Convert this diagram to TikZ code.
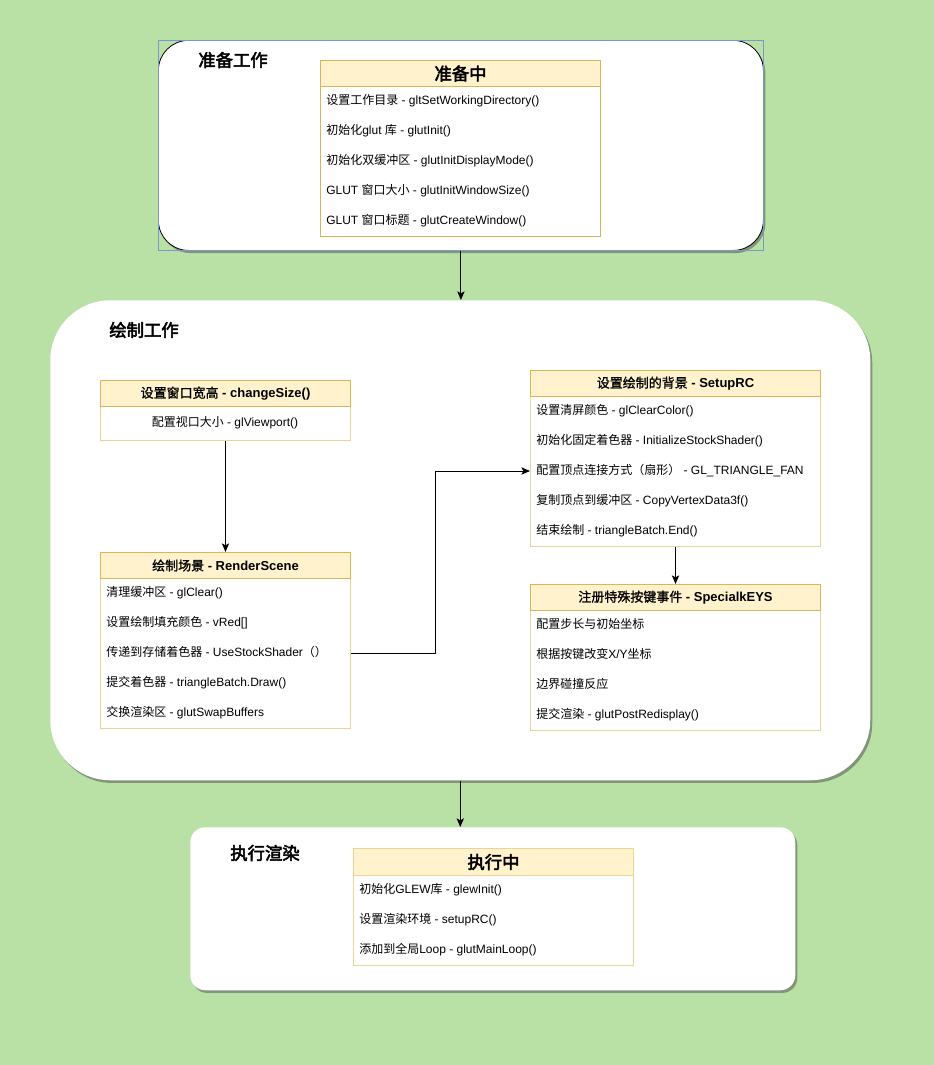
\documentclass[tikz,border=0pt]{standalone}
\usepackage{fontspec}
\setmainfont{Liberation Sans}
\newfontfamily\cjk{Noto Sans CJK SC}
\newfontfamily\cjkbf{Noto Sans CJK SC}[FakeBold=1.2]
\newfontfamily\cjkttl{Noto Sans CJK SC}[FakeBold=3]
\usetikzlibrary{arrows.meta,shadows}
\newcommand\zh[1]{{\cjk #1}}
\newcommand\zhb[1]{{\cjkbf #1}}
\newcommand\zht[1]{{\cjkttl #1}}
\newcommand\hb[2]{\zhb{#1}\textbf{#2}}
\definecolor{bgc}{HTML}{B9E0A5}
\definecolor{hdrf}{HTML}{FFF2CC}
\definecolor{hdrd}{HTML}{D6B656}
\definecolor{hdrl}{HTML}{EBD596}
\definecolor{selc}{HTML}{7A98D0}
\begin{document}
\begin{tikzpicture}[x=0.75pt,y=-0.75pt,
 panel/.style={fill=white, anchor=north west, inner sep=0pt,
   drop shadow={shadow xshift=1.5pt, shadow yshift=-2pt, opacity=0.5, fill=black!70}},
 hdr/.style={draw=hdrd, fill=hdrf, line width=0.75pt, anchor=north west, inner sep=0pt,
   minimum height=19.5pt, font=\fontsize{9.75}{12}\selectfont},
 thdr/.style={hdr, font=\fontsize{13}{15}\selectfont},
 tbody/.style={draw=hdrl, fill=white, line width=0.75pt, anchor=north west, inner sep=0pt},
 rowt/.style={anchor=west, inner sep=0pt, text height=7pt, text depth=2pt, font=\fontsize{9}{11}\selectfont},
 ttl/.style={inner sep=0pt, font=\fontsize{13}{15}\selectfont},
 arr/.style={-{Stealth[length=6.5pt,width=5.5pt,inset=1.5pt]}, line width=0.75pt}
]
\fill[bgc] (0,0) rectangle (934,1065);
\useasboundingbox (0,0) rectangle (934,1065);

% panels
\node[panel, draw=black, line width=0.6pt, rounded corners=22.5pt,
  minimum width=453.75pt, minimum height=157.5pt] (p1) at (158,40) {};
\draw[selc, line width=0.75pt] (p1.north west) rectangle (p1.south east);
\node[panel, rounded corners=45pt, minimum width=615pt, minimum height=360pt] (p2) at (50,300) {};
\node[panel, rounded corners=11.25pt, minimum width=453.75pt, minimum height=122.25pt] (p3) at (190,827) {};

% panel titles
\node[ttl] (t1) at (233,60) {\zht{准备工作}};
\node[ttl] (t2) at (144,330) {\zht{绘制工作}};
\node[ttl] (t3) at (265,853) {\zht{执行渲染}};

% table A
\node[tbody, draw=hdrd, minimum width=210pt, minimum height=112.5pt] (ab) at (320,86) {};
\node[thdr, minimum width=210pt] (ah) at (320,60) {\zht{准备中}};
\node[rowt] (a1) at (326,101) {\zh{设置工作目录} - gltSetWorkingDirectory()};
\node[rowt] (a2) at (326,131) {\zh{初始化}glut \zh{库} - glutInit()};
\node[rowt] (a3) at (326,161) {\zh{初始化双缓冲区} - glutInitDisplayMode()};
\node[rowt] (a4) at (326,191) {GLUT \zh{窗口大小} - glutInitWindowSize()};
\node[rowt] (a5) at (326,221) {GLUT \zh{窗口标题} - glutCreateWindow()};

% table B
\node[tbody, minimum width=187.5pt, minimum height=25.5pt] (bb) at (100,406) {};
\node[hdr, minimum width=187.5pt] (bh) at (100,380) {\hb{设置窗口宽高}{ - changeSize()}};
\node[rowt, anchor=center] (b1) at (225,423) {\zh{配置视口大小} - glViewport()};

% table C
\node[tbody, minimum width=217.5pt, minimum height=112.5pt] (cb) at (530,396) {};
\node[hdr, minimum width=217.5pt] (ch) at (530,370) {\hb{设置绘制的背景}{ - SetupRC}};
\node[rowt] (c1) at (536,411) {\zh{设置清屏颜色} - glClearColor()};
\node[rowt] (c2) at (536,441) {\zh{初始化固定着色器} - InitializeStockShader()};
\node[rowt] (c3) at (536,471) {\zh{配置顶点连接方式（扇形）} - GL\_TRIANGLE\_FAN};
\node[rowt] (c4) at (536,501) {\zh{复制顶点到缓冲区} - CopyVertexData3f()};
\node[rowt] (c5) at (536,531) {\zh{结束绘制} - triangleBatch.End()};

% table D
\node[tbody, minimum width=187.5pt, minimum height=112.5pt] (db) at (100,578) {};
\node[hdr, minimum width=187.5pt] (dh) at (100,552) {\hb{绘制场景}{ - RenderScene}};
\node[rowt] (d1) at (106,593) {\zh{清理缓冲区} - glClear()};
\node[rowt] (d2) at (106,623) {\zh{设置绘制填充颜色} - vRed[]};
\node[rowt] (d3) at (106,653) {\zh{传递到存储着色器} - UseStockShader\zh{（）}};
\node[rowt] (d4) at (106,683) {\zh{提交着色器} - triangleBatch.Draw()};
\node[rowt] (d5) at (106,713) {\zh{交换渲染区} - glutSwapBuffers};

% table E
\node[tbody, minimum width=217.5pt, minimum height=90pt] (eb) at (530,610) {};
\node[hdr, minimum width=217.5pt] (eh) at (530,584) {\hb{注册特殊按键事件}{ - SpecialkEYS}};
\node[rowt] (e1) at (536,625) {\zh{配置步长与初始坐标}};
\node[rowt] (e2) at (536,655) {\zh{根据按键改变}X/Y\zh{坐标}};
\node[rowt] (e3) at (536,685) {\zh{边界碰撞反应}};
\node[rowt] (e4) at (536,715) {\zh{提交渲染} - glutPostRedisplay()};

% table F
\node[tbody, minimum width=210pt, minimum height=67.5pt] (fb) at (353,875) {};
\node[thdr, draw=hdrl, minimum width=210pt, minimum height=20.25pt] (fh) at (353,848) {\zht{执行中}};
\node[rowt] (f1) at (359,890) {\zh{初始化}GLEW\zh{库} - glewInit()};
\node[rowt] (f2) at (359,920) {\zh{设置渲染环境} - setupRC()};
\node[rowt] (f3) at (359,950) {\zh{添加到全局}Loop - glutMainLoop()};

% connectors
\coordinate (jog) at (435,653);
\draw[arr] (p1.south) -- (p1.south |- p2.north);
\draw[arr] (bb.south) -- (dh.north);
\draw[arr] (cb.south) -- (eh.north);
\draw[arr] (p2.south) -- (p2.south |- p3.north);
\draw[arr] (d3 -| db.east) -- (jog) |- (c3 -| cb.west);
\end{tikzpicture}
\end{document}
